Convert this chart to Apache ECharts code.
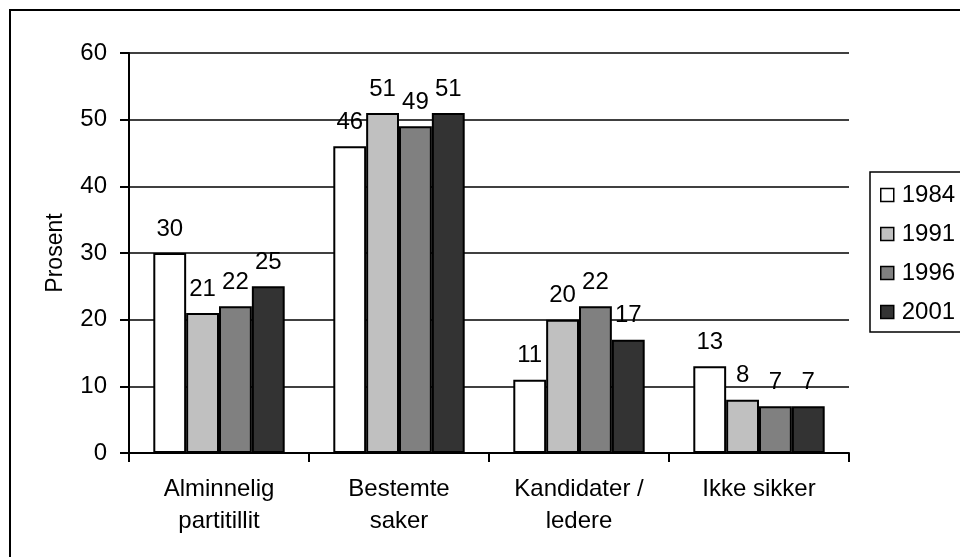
<!DOCTYPE html>
<html>
<head>
<meta charset="utf-8">
<script src="https://cdn.jsdelivr.net/npm/echarts@6/dist/echarts.min.js"></script>
<style>
  html, body { margin: 0; padding: 0; background: #fff; }
  #chart { width: 960px; height: 557px; }
</style>
</head>
<body>
<div id="chart"></div>
<script>
// Reasons for party choice, by election year (percent)
const categories = ['Alminnelig\npartitillit', 'Bestemte\nsaker', 'Kandidater /\nledere', 'Ikke sikker'];
const years = ['1984', '1991', '1996', '2001'];
const values1984 = [30, 46, 11, 13];
const values1991 = [21, 51, 20, 8];
const values1996 = [22, 49, 22, 7];
const values2001 = [25, 51, 17, 7];
const yTicks = [0, 10, 20, 30, 40, 50, 60];

const seriesValues = [values1984, values1991, values1996, values2001];
const fills = ['#ffffff', '#c0c0c0', '#808080', '#333333'];
const font = 'Liberation Sans, Arial, sans-serif';
const fontSize = 24;

const chart = echarts.init(document.getElementById('chart'), null, { renderer: 'canvas' });

chart.setOption({
  backgroundColor: '#fff',
  animation: false,
  textStyle: { fontFamily: font, color: '#000' },
  grid: { left: 129, top: 53, right: 111, bottom: 104, containLabel: false },
  legend: {
    orient: 'vertical',
    left: 870,
    top: 172,
    padding: [11, 20, 8, 10],
    borderColor: '#000',
    borderWidth: 1.5,
    icon: 'rect',
    itemWidth: 13,
    itemHeight: 13,
    itemGap: 15,
    itemStyle: { borderColor: '#000', borderWidth: 1.5 },
    textStyle: { fontFamily: font, fontSize: fontSize, color: '#000', padding: [0, 0, 0, 3] },
    data: years
  },
  xAxis: {
    type: 'category',
    data: categories,
    axisLine: { lineStyle: { color: '#000', width: 2 } },
    axisTick: { show: true, length: 9, lineStyle: { color: '#000', width: 2 } },
    axisLabel: {
      fontFamily: font, fontSize: fontSize, color: '#000',
      margin: 20, lineHeight: 32, interval: 0
    }
  },
  yAxis: {
    type: 'value',
    min: yTicks[0],
    max: yTicks[yTicks.length - 1],
    interval: 10,
    name: 'Prosent',
    nameLocation: 'middle',
    nameGap: 62,
    nameRotate: 90,
    nameTextStyle: { fontFamily: font, fontSize: fontSize - 1, color: '#000' },
    axisLine: { show: true, lineStyle: { color: '#000', width: 2 } },
    axisTick: { show: true, length: 9, lineStyle: { color: '#000', width: 2 } },
    axisLabel: { fontFamily: font, fontSize: fontSize, color: '#000', margin: 22 },
    splitLine: { show: true, lineStyle: { color: '#000', width: 1.5 } }
  },
  series: years.map((y, i) => ({
    name: y,
    type: 'bar',
    data: seriesValues[i],
    barGap: '0%',
    barCategoryGap: '27%',
    itemStyle: { color: fills[i], borderColor: '#000', borderWidth: 2 },
    label: {
      show: true,
      position: 'top',
      distance: 12,
      fontFamily: font,
      fontSize: fontSize,
      color: '#000'
    }
  })),
  graphic: [{
    type: 'rect',
    shape: { x: 10, y: 10, width: 1000, height: 600 },
    style: { fill: 'none', stroke: '#000', lineWidth: 2 },
    silent: true,
    z: 100
  }]
});
</script>
</body>
</html>
